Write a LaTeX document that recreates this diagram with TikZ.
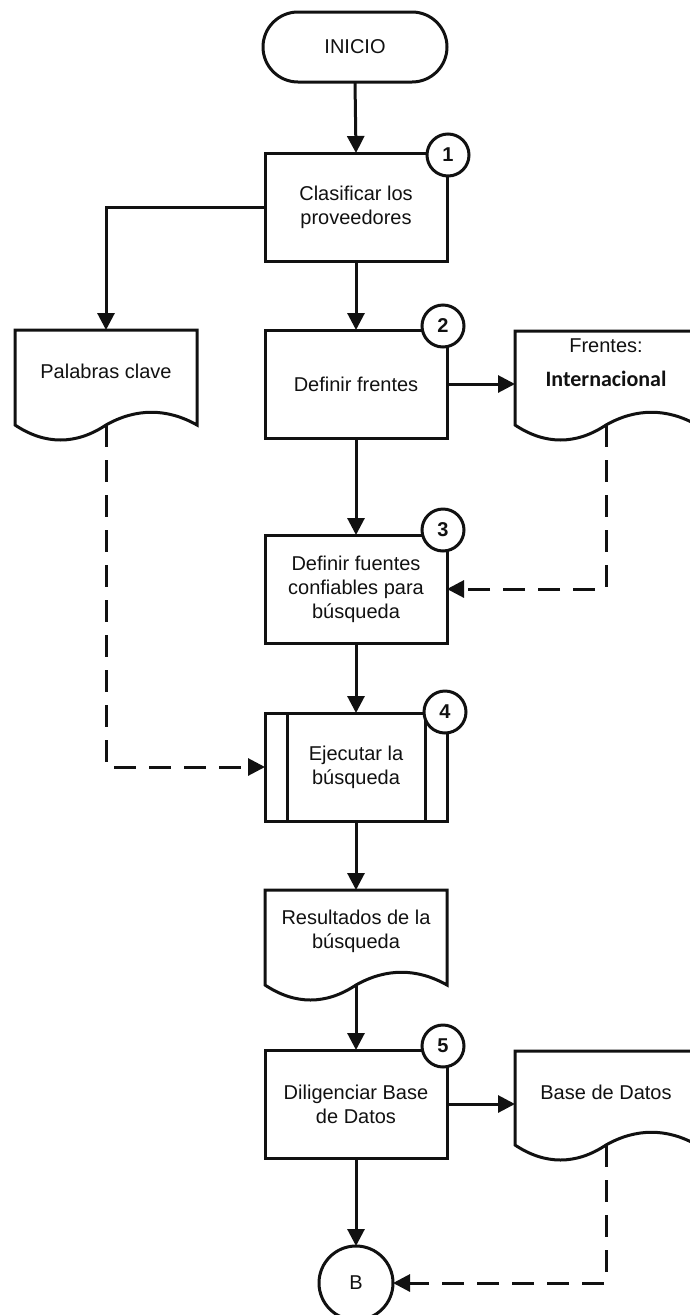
\documentclass[tikz,border=0pt]{standalone}
\usepackage{fontspec}
\setmainfont{Liberation Sans}
\newfontfamily\calibri{Carlito}
\usetikzlibrary{arrows.meta,calc}
\definecolor{ink}{HTML}{111111}

% Document symbol: straight top and sides, wavy bottom hanging #2 below the node's south edge
\newcommand{\docoutline}[2]{%
  \draw[shapeline] ($(#1.south west)+(0,#2)$) -- (#1.north west) -- (#1.north east)
    -- ($(#1.south east)+(0,#2)$)
    .. controls ($(#1.south east)+(-30,#2-17)$) and ($(#1.south)+(30,#2-17)$) .. ($(#1.south)+(0,#2)$)
    .. controls ($(#1.south)+(-30,#2+20)$) and ($(#1.south west)+(30,#2+20)$) .. cycle;
  \coordinate (#1-tail) at ($(#1.south)+(0,#2)$);
}

\begin{document}
\begin{tikzpicture}[x=1pt,y=-1pt,
  every node/.style={font=\fontsize{20}{24}\selectfont, text=ink},
  shapeline/.style={line width=3pt, draw=ink},
  term/.style={shapeline, rectangle, rounded corners=35pt, minimum width=184pt, minimum height=70pt, inner sep=0pt, outer sep=0pt},
  proc/.style={shapeline, rectangle, minimum width=182pt, minimum height=108pt, align=center, inner sep=0pt, outer sep=0pt},
  doc/.style={rectangle, minimum width=182pt, align=center, inner sep=0pt, outer sep=0pt},
  numcirc/.style={shapeline, circle, fill=white, minimum size=42pt, inner sep=0pt, outer sep=0pt, font=\fontsize{20}{24}\selectfont\bfseries},
  conn/.style={shapeline, circle, minimum size=74pt, inner sep=0pt, outer sep=0pt},
  flow/.style={line width=3pt, draw=ink, -{Triangle[length=17pt,width=17pt]}},
  dflow/.style={flow, dash pattern=on 22pt off 13pt}
]
\useasboundingbox (0,0) rectangle (690,1315);
\clip (0,0) rectangle (690,1315);

% main column
\node[term] (inicio) at (355,47) {INICIO};
\node[proc] (box1) at (356,207) {Clasificar los\\proveedores};
\node[proc] (box2) at (356,384) {Definir frentes};
\node[proc] (box3) at (356,589) {Definir fuentes\\confiables para\\búsqueda};
\node[proc] (box4) at (356,767) {Ejecutar la\\búsqueda};
\node[proc] (box5) at (356,1104) {Diligenciar Base\\de Datos};
\node[conn] (B) at (356,1283) {B};

% predefined-process bars
\draw[shapeline] ($(box4.north west)+(22,0)$) -- ($(box4.south west)+(22,0)$);
\draw[shapeline] ($(box4.north east)+(-22,0)$) -- ($(box4.south east)+(-22,0)$);

% documents
\node[doc, minimum height=83pt] (pal) at (106,371.5) {Palabras clave};
\node[doc, minimum height=63pt] (fr) at (606,362.5) {Frentes:\\[10pt]{\calibri\bfseries\fontsize{22}{24}\selectfont Internacional}};
\node[doc, minimum height=83pt] (res) at (356,931.5) {Resultados de la\\búsqueda};
\node[doc, minimum height=82pt] (base) at (606,1092) {Base de Datos};
\docoutline{pal}{12}
\docoutline{fr}{31}
\docoutline{res}{12}
\docoutline{base}{12}

% step numbers
\node[numcirc] (n1) at ($(box1.north east)+(1,2)$) {1};
\node[numcirc] (n2) at ($(box2.north east)+(-4,-4)$) {2};
\node[numcirc] (n3) at ($(box3.north east)+(-4,-5)$) {3};
\node[numcirc] (n4) at ($(box4.north east)+(-2,-1)$) {4};
\node[numcirc] (n5) at ($(box5.north east)+(-4,-4)$) {5};

% solid flow
\draw[flow] (inicio.south) -- (box1.north);
\draw[flow] (box1.west) -| (pal.north);
\draw[flow] (box1.south) -- (box2.north);
\draw[flow] (box2.east) -- (box2.east -| fr.west);
\draw[flow] (box2.south) -- (box3.north);
\draw[flow] (box3.south) -- (box4.north);
\draw[flow] (box4.south) -- (res.north);
\draw[flow] (res-tail) -- (box5.north);
\draw[flow] (box5.east) -- (box5.east -| base.west);
\draw[flow] (box5.south) -- (B.north);

% dashed information flow
\draw[dflow] (pal-tail) |- (box4.west);
\draw[dflow] (fr-tail) |- (box3.east);
\draw[dflow] (base-tail) |- (B.east);
\end{tikzpicture}
\end{document}
